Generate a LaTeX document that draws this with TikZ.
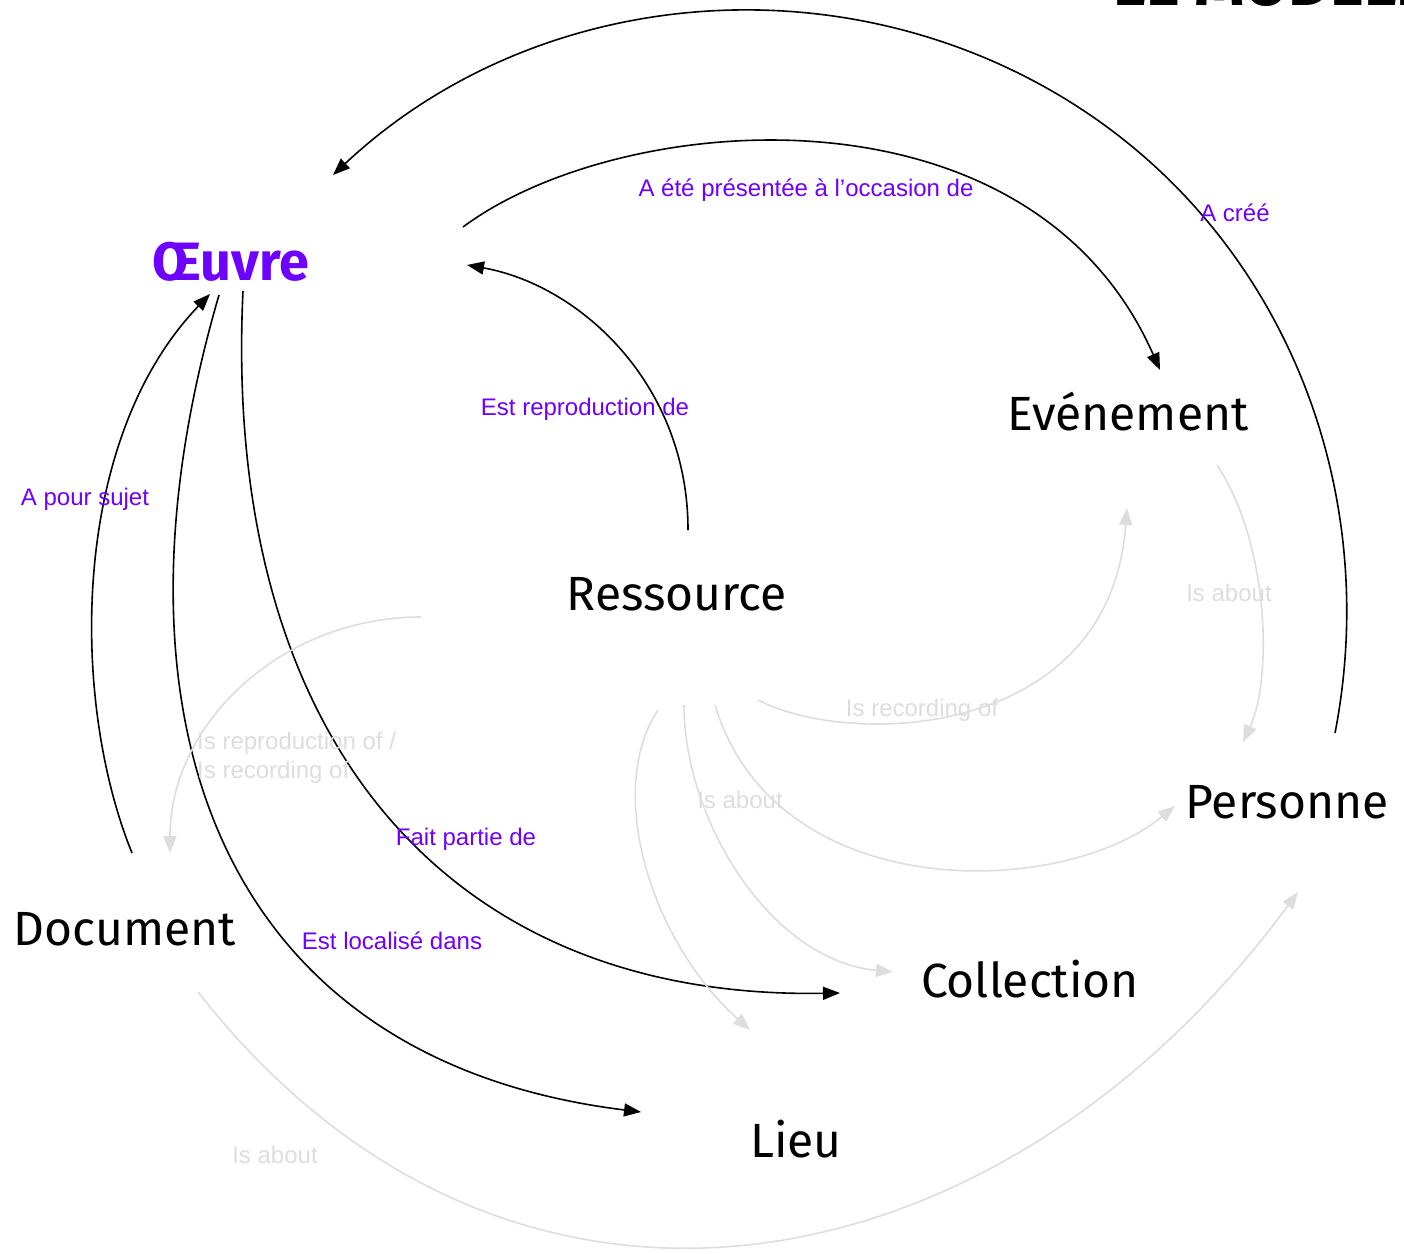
\documentclass[tikz,border=0pt]{standalone}
\usepackage{fontspec}
\setmainfont{Liberation Sans}
\newfontfamily\conceptfont{Fira Sans}
\usetikzlibrary{arrows.meta,calc}
\definecolor{mypurple}{RGB}{110,0,255}
\definecolor{softgray}{RGB}{221,221,221}
\begin{document}
\begin{tikzpicture}[x=1pt,y=-1pt,
  concept/.style={font=\conceptfont\fontsize{48}{58}\selectfont, inner sep=0pt, anchor=base},
  rel/.style={font=\fontsize{24}{29}\selectfont, text=mypurple, inner sep=0pt, anchor=base},
  relgray/.style={font=\fontsize{24}{29}\selectfont, text=softgray, inner sep=0pt, anchor=base},
  link/.style={line width=1.6pt, draw=black, -{Triangle[length=17pt,width=13pt]}},
  linkgray/.style={line width=1.6pt, draw=softgray, -{Triangle[length=17pt,width=13pt]}}
]
\useasboundingbox (0,0) rectangle (1404,1253);

% title (cut off by the page edge, as in the original)
\node[anchor=base west, inner sep=0pt, font=\conceptfont\bfseries\fontsize{64}{70}\selectfont] (titre) at (1113,5) {LE MODÈLE};

% concepts
\node[concept, font=\conceptfont\bfseries\fontsize{54}{64}\selectfont, text=mypurple] (oeuvre) at (231,280) {Œuvre};
\node[concept] (evenement) at (1128,430) {Evénement};
\node[concept] (ressource) at (677,610) {Ressource};
\node[concept] (personne) at (1287,818) {Personne};
\node[concept] (document) at (125,945) {Document};
\node[concept] (collection) at (1030,997) {Collection};
\node[concept] (lieu) at (796,1157) {Lieu};

% black relations
\draw[link] ($(personne.base)+(48,-85)$) .. controls (1385,475) and (1273,213) .. (1043,86)
   .. controls (813,-41) and (525,-5) .. ($(oeuvre.base)+(102,-105)$);
\draw[link] ($(oeuvre.base)+(232,-53)$) .. controls (620,110) and (1030,75) .. ($(evenement.base)+(32,-60)$);
\draw[link] ($(ressource.base)+(11,-80)$) .. controls (688,384) and (580,285) .. ($(oeuvre.base)+(236,-15)$);
\draw[link] ($(document.base)+(7,-92)$) .. controls (70,700) and (70,440) .. ($(oeuvre.base)+(-21,14)$);
\draw[link] ($(oeuvre.base)+(12,11)$) .. controls (222,730) and (440,1000) .. ($(collection.base)+(-190,-4)$);
\draw[link] ($(oeuvre.base)+(-12,15)$) .. controls (95,720) and (220,1060) .. ($(lieu.base)+(-155,-45)$);

% gray relations
\draw[linkgray] ($(ressource.base)+(-256,7)$) .. controls (282,617) and (170,723) .. ($(document.base)+(45,-92)$);
\draw[linkgray] ($(ressource.base)+(81,90)$) .. controls (850,748) and (1110,740) .. ($(evenement.base)+(-1,78)$);
\draw[linkgray] ($(evenement.base)+(89,35)$) .. controls (1270,545) and (1272,680) .. ($(personne.base)+(-44,-76)$);
\draw[linkgray] ($(ressource.base)+(7,95)$) .. controls (684,820) and (770,960) .. ($(collection.base)+(-137,-25)$);
\draw[linkgray] ($(ressource.base)+(38,95)$) .. controls (775,905) and (1060,900) .. ($(personne.base)+(-112,-12)$);
\draw[linkgray] ($(ressource.base)+(-19,100)$) .. controls (605,790) and (650,940) .. ($(lieu.base)+(-46,-127)$);
\draw[linkgray] ($(document.base)+(73,47)$) .. controls (510,1390) and (1000,1296) .. ($(personne.base)+(11,74)$);

% labels
\node[rel] (l1) at (806,196) {A été présentée à l’occasion de};
\node[rel] (l2) at (1235,221) {A créé};
\node[rel] (l3) at (585,415) {Est reproduction de};
\node[rel] (l4) at (85,505) {A pour sujet};
\node[rel] (l5) at (466,845) {Fait partie de};
\node[rel] (l6) at (392,949) {Est localisé dans};
\node[relgray, anchor=north west, align=left] (g1) at (197,732) {Is reproduction of /\\Is recording of};
\node[relgray] (g2) at (922,716) {Is recording of};
\node[relgray] (g3) at (1229,601) {Is about};
\node[relgray] (g4) at (740,808) {Is about};
\node[relgray] (g5) at (275,1163) {Is about};
\end{tikzpicture}
\end{document}
